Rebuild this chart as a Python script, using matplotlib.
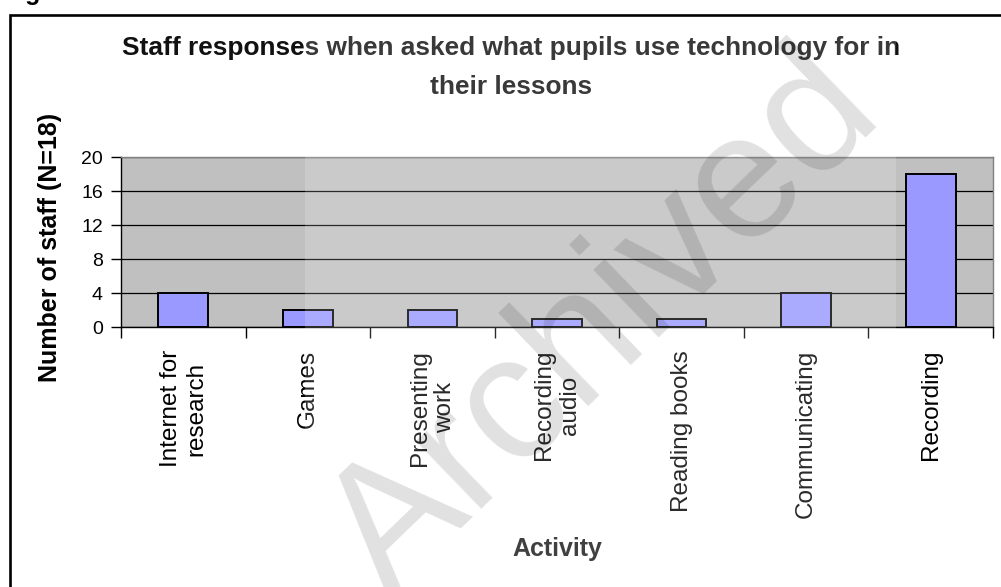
import matplotlib
matplotlib.use("Agg")
import matplotlib.pyplot as plt
from matplotlib.patches import Rectangle

plt.rcParams['font.family'] = ['Liberation Sans', 'DejaVu Sans']

# Data
activities = ["Internet for\nresearch", "Games", "Presenting\nwork", "Recording\naudio",
              "Reading books", "Communicating", "Recording"]
staff_counts = [4, 2, 2, 1, 1, 4, 18]
y_ticks = [0, 4, 8, 12, 16, 20]

W, H = 1001, 587
fig = plt.figure(figsize=(W / 100, H / 100), dpi=100)

def fx(px):
    return px / W

def fy(py):
    return 1 - py / H

# Plot area
ax = fig.add_axes([fx(121), fy(327), fx(993) - fx(121), fy(157) - fy(327)])
ax.set_facecolor("#C0C0C0")
x = list(range(len(activities)))
ax.bar(x, staff_counts, width=0.4, color="#9999FF", edgecolor="black",
       linewidth=1.4, zorder=2)

ax.set_xlim(-0.5, len(activities) - 0.5)
ax.set_ylim(0, 20)
ax.set_yticks(y_ticks)
ax.set_yticklabels([str(v) for v in y_ticks], fontsize=14)
ax.tick_params(axis="y", direction="out", length=7, width=1, pad=6)

ax.set_xticks(x)
ax.set_xticklabels(activities, rotation=90, fontsize=17.5, ha="center", va="top",
                   multialignment="center", linespacing=1.2)
ax.tick_params(axis="x", which="major", length=0, pad=16.5)
ax.set_xticks([i - 0.5 for i in range(len(activities) + 1)], minor=True)
ax.tick_params(axis="x", which="minor", direction="out", length=8, width=1)

ax.set_axisbelow(True)
ax.yaxis.grid(True, color="black", linewidth=0.9)
ax.xaxis.grid(False)

for side in ("left", "bottom"):
    ax.spines[side].set_color("black")
    ax.spines[side].set_linewidth(1.0)
for side in ("top", "right"):
    ax.spines[side].set_color("#808080")
    ax.spines[side].set_linewidth(1.0)

# Titles and axis labels
fig.text(fx(511), fy(36), "Staff responses when asked what pupils use technology for in\ntheir lessons",
         ha="center", va="top", fontsize=18.9, fontweight="bold", linespacing=1.8,
         color="#111111")
fig.text(fx(50), fy(247), "Number of staff (N=18)", rotation=90, ha="center", va="center",
         fontsize=18, fontweight="bold")
fig.text(fx(557), fy(549), "Activity", ha="center", va="center", fontsize=18,
         fontweight="bold", color="#1a1a1a")

# Cropped caption above the frame
fig.text(fx(3), 1.0, "Figure", ha="left", va="baseline", fontsize=18, fontweight="bold")

# Frame around the chart
fig.patches.append(Rectangle((fx(9.5), -0.1), 2.0, fy(14.5) + 0.1, transform=fig.transFigure,
                             fill=False, edgecolor="black", linewidth=1.9, zorder=5))

# Watermark
fig.patches.append(Rectangle((fx(305), 0.0), fx(896) - fx(305), fy(30), transform=fig.transFigure,
                             facecolor="white", edgecolor="none", alpha=0.17, zorder=10))
fig.text(fx(605), fy(325), "Archived", rotation=44, ha="center", va="center",
         fontsize=128, color="black", alpha=0.12, zorder=11)

fig.savefig("out.png", dpi=100)
